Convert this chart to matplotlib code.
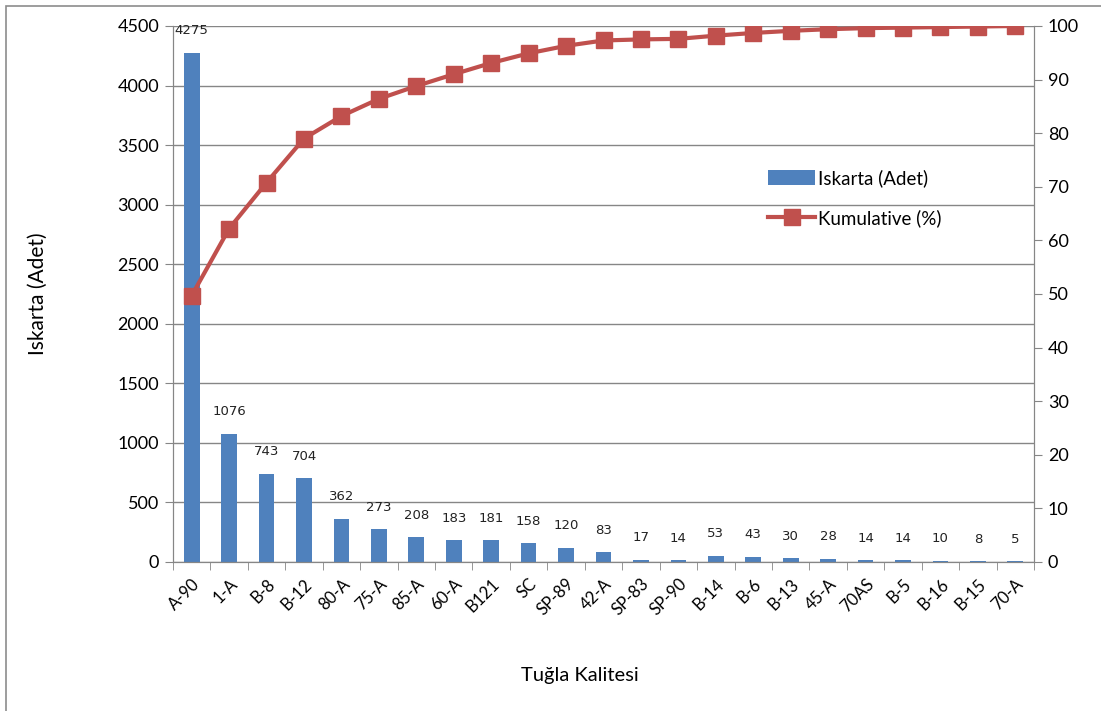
"""Pareto chart of scrap counts by brick quality."""

import matplotlib.pyplot as plt
from matplotlib.lines import Line2D
from matplotlib.patches import Patch, Rectangle
import numpy as np

qualities = [
    "A-90", "1-A", "B-8", "B-12", "80-A", "75-A", "85-A", "60-A", "B121",
    "SC", "SP-89", "42-A", "SP-83", "SP-90", "B-14", "B-6", "B-13", "45-A",
    "70AS", "B-5", "B-16", "B-15", "70-A",
]
scrap_counts = [
    4275, 1076, 743, 704, 362, 273, 208, 183, 181, 158, 120, 83, 17, 14,
    53, 43, 30, 28, 14, 14, 10, 8, 5,
]
cumulative_pct = [
    49.7, 62.2, 70.8, 79.0, 83.2, 86.4, 88.8, 91.0, 93.1, 94.9, 96.3, 97.3,
    97.5, 97.6, 98.2, 98.7, 99.1, 99.4, 99.6, 99.7, 99.8, 99.9, 100.0,
]

BAR_COLOR = "#4F81BD"
LINE_COLOR = "#C0504D"
GRID_COLOR = "#868686"

plt.rcParams["font.family"] = ["Lato", "DejaVu Sans"]

fig = plt.figure(figsize=(11.01, 7.11), dpi=100)
ax = fig.add_axes([173 / 1101, 1 - 562 / 711, (1034 - 173) / 1101, (562 - 26) / 711])

# outer chart frame
fig.patches.append(
    Rectangle((6 / 1101, -0.05), 1.2, 1 - 6 / 711 + 0.05, transform=fig.transFigure,
              fill=False, edgecolor="#8c8c8c", linewidth=1.2)
)

x = np.arange(len(qualities))
ax.bar(x, scrap_counts, width=0.42, color=BAR_COLOR, zorder=2)

for xi, val in zip(x, scrap_counts):
    ax.annotate(str(val), (xi, val), xytext=(0, 22), textcoords="offset pixels",
                ha="center", va="center", fontsize=9.5,
                family=["Liberation Sans Narrow", "DejaVu Sans"], color="#222222")

ax.set_xlim(-0.5, len(qualities) - 0.5)
ax.set_ylim(0, 4500)
ax.set_yticks(np.arange(0, 4501, 500))
ax.yaxis.grid(True, color=GRID_COLOR, linewidth=1.0, zorder=0)
ax.set_axisbelow(True)

ax.set_xticks(x)
ax.set_xticklabels(qualities, rotation=45, ha="right", rotation_mode="anchor", fontsize=12)
ax.set_xticks(np.arange(-0.5, len(qualities)), minor=True)
ax.tick_params(axis="x", which="major", length=0, pad=10)
ax.tick_params(axis="x", which="minor", length=6, color=GRID_COLOR)
ax.tick_params(axis="y", length=6, color=GRID_COLOR, labelsize=13, pad=4)

ax.spines["top"].set_visible(False)
for side in ("left", "right", "bottom"):
    ax.spines[side].set_color(GRID_COLOR)

ax.set_ylabel("Iskarta (Adet)", fontsize=15, labelpad=50)

ax2 = ax.twinx()
ax2.plot(x, cumulative_pct, color=LINE_COLOR, linewidth=3, marker="s",
         markersize=12, markeredgecolor=LINE_COLOR, zorder=3)
ax2.set_ylim(0, 100)
ax2.set_yticks(np.arange(0, 101, 10))
ax2.tick_params(axis="y", length=6, color=GRID_COLOR, labelsize=13, pad=4)
ax2.spines["top"].set_visible(False)
for side in ("left", "right", "bottom"):
    ax2.spines[side].set_color(GRID_COLOR)

fig.text(580 / 1101, 1 - 675 / 711, "Tuğla Kalitesi", ha="center", va="center", fontsize=14.5)

handles = [
    Patch(facecolor=BAR_COLOR, edgecolor="none"),
    Line2D([], [], color=LINE_COLOR, linewidth=3, marker="s", markersize=12),
]
ax2.legend(handles, ["Iskarta (Adet)", "Kumulative (%)"], loc="upper left",
           bbox_to_anchor=(0.672, 0.765), frameon=False, fontsize=13.5,
           handlelength=2.5, handleheight=0.85, handletextpad=0.15, labelspacing=1.2)

fig.savefig("out.png", dpi=100)
